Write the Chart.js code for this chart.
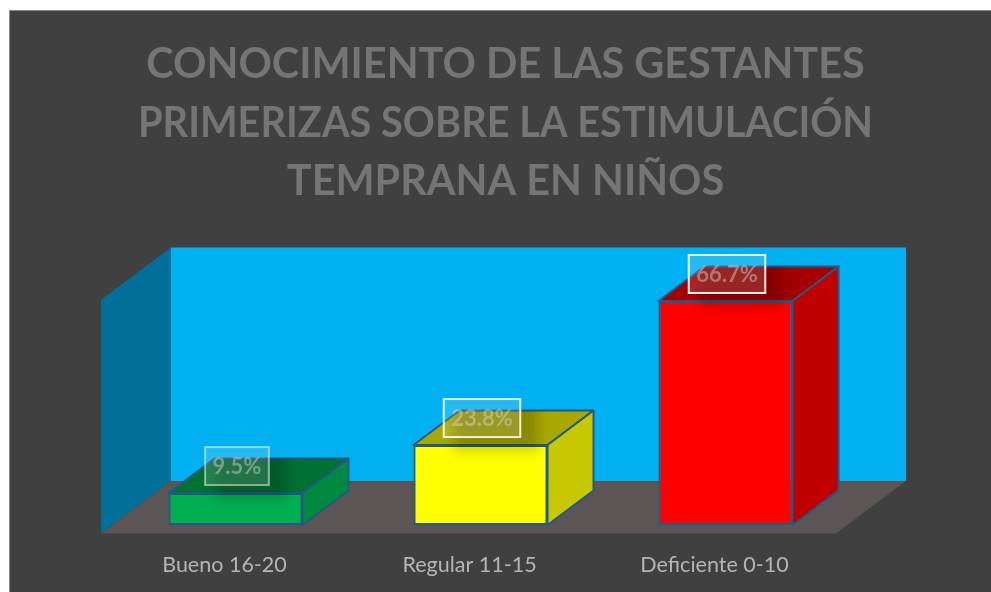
<!DOCTYPE html>
<html>
<head>
<meta charset="utf-8">
<title>Conocimiento de las gestantes</title>
<script src="https://cdn.jsdelivr.net/npm/chart.js@4/dist/chart.umd.js"></script>
<style>
    html, body { margin: 0; padding: 0; background: #fff; overflow: hidden; }
    #panel { position: absolute; left: 9px; top: 10px; width: 990px; height: 590px; background: #404040; border: 1px solid #8a8a8a; border-right: 0; border-bottom: 0; }
    #chart { position: absolute; left: 0; top: 0; }
</style>
</head>
<body>
<div id="panel"></div>
<canvas id="chart" width="991" height="592"></canvas>
<script>
const titleLines = ['CONOCIMIENTO DE LAS GESTANTES', 'PRIMERIZAS SOBRE LA ESTIMULACIÓN', 'TEMPRANA EN NIÑOS'];
const categories = ['Bueno 16-20', 'Regular 11-15', 'Deficiente 0-10'];
const percentages = [9.5, 23.8, 66.7];

const frontColors = ['#00b050', '#ffff00', '#ff0000'];
const topColors = ['#007033', '#a8a800', '#a50000'];
const sideColors = ['#008a3f', '#c8c800', '#c00000'];
const boxBorders = ['rgba(255,255,255,0.5)', 'rgba(255,255,255,0.85)', 'rgba(255,255,255,0.95)'];
const edgeColor = '#215a86';
const fontName = 'Lato, "Open Sans", sans-serif';

function poly(ctx, pts, fill) {
    ctx.beginPath();
    pts.forEach((p, i) => i ? ctx.lineTo(p[0], p[1]) : ctx.moveTo(p[0], p[1]));
    ctx.closePath();
    if (fill) {
        ctx.fillStyle = fill;
        ctx.fill();
    }
}

const box3d = {
    id: 'box3d',
    afterLayout(chart) {
        // title is not centred on the plot in the original
        chart.titleBlock.left += 25;
        chart.titleBlock.right += 25;
    },
    beforeDatasetsDraw(chart) {
        const ctx = chart.ctx;
        const area = chart.chartArea;
        const y0 = chart.scales.y.getPixelForValue(0);
        const left = area.left - 12, right = area.right - 12;
        const floor = y0 + 8.5, top = area.top - 1;
        const wx = 70, wy = 52.5;

        ctx.save();
        // back wall, left wall, floor
        poly(ctx, [[left + wx, top - wy], [right + wx, top - wy], [right + wx, floor - wy], [left + wx, floor - wy]], '#00b0f0');
        poly(ctx, [[left, top], [left + wx, top - wy], [left + wx, floor - wy], [left, floor]], '#006f99');
        poly(ctx, [[left, floor], [right, floor], [right + wx, floor - wy], [left + wx, floor - wy]], '#5b5655');

        // top and side of every bar
        const dx = 46, dy = 34.5;
        chart.getDatasetMeta(0).data.forEach((bar, i) => {
            const l = bar.x - bar.width / 2, r = bar.x + bar.width / 2;
            ctx.strokeStyle = edgeColor;
            ctx.lineWidth = 2;
            ctx.lineJoin = 'round';
            poly(ctx, [[l, bar.y], [r, bar.y], [r + dx, bar.y - dy], [l + dx, bar.y - dy]], topColors[i]);
            ctx.stroke();
            poly(ctx, [[r, bar.y], [r + dx, bar.y - dy], [r + dx, bar.base - dy], [r, bar.base]], sideColors[i]);
            ctx.stroke();
        });
        ctx.restore();
    },
    afterDatasetsDraw(chart) {
        const ctx = chart.ctx;
        const dx = 46, dy = 34.5;
        chart.getDatasetMeta(0).data.forEach((bar, i) => {
            const text = percentages[i].toFixed(1) + '%';
            const l = bar.x - bar.width / 2, r = bar.x + bar.width / 2;

            ctx.save();
            ctx.font = 'bold 22px ' + fontName;
            const boxW = ctx.measureText(text).width + 15;
            const boxH = 38;
            const bx = bar.x + 1.5 - boxW / 2;
            const by = bar.y - 8 - boxH;

            // soft shadow of the label, only visible on the bar
            ctx.save();
            poly(ctx, [[l, bar.base], [l, bar.y], [l + dx, bar.y - dy], [r + dx, bar.y - dy], [r, bar.y], [r, bar.base]]);
            ctx.clip();
            ctx.filter = 'blur(6px)';
            ctx.fillStyle = 'rgba(0,0,0,0.18)';
            ctx.fillRect(bx + 10, by, boxW + 8, boxH + 14);
            ctx.restore();

            ctx.fillStyle = 'rgba(255,255,255,0.14)';
            ctx.fillRect(bx, by, boxW, boxH);
            ctx.strokeStyle = boxBorders[i];
            ctx.lineWidth = 2;
            ctx.strokeRect(bx, by, boxW, boxH);

            ctx.fillStyle = 'rgba(217,217,217,0.45)';
            ctx.textAlign = 'center';
            ctx.textBaseline = 'middle';
            ctx.fillText(text, bx + boxW / 2, by + boxH / 2 + 1);
            ctx.restore();
        });
    }
};

new Chart(document.getElementById('chart').getContext('2d'), {
    type: 'bar',
    data: {
        labels: categories,
        datasets: [{
            data: percentages,
            backgroundColor: frontColors,
            borderColor: edgeColor,
            borderWidth: 2,
            borderSkipped: false,
            categoryPercentage: 1,
            barPercentage: 0.547,
            clip: false
        }]
    },
    options: {
        responsive: false,
        animation: false,
        layout: { padding: { left: 113, right: 143, top: 35, bottom: 0 } },
        plugins: {
            legend: { display: false },
            tooltip: { enabled: false },
            title: {
                display: true,
                text: titleLines,
                color: '#757575',
                font: { family: fontName, size: 41.4, weight: 'bold', lineHeight: 1.42 },
                padding: { top: 0, bottom: 89.6 }
            }
        },
        scales: {
            x: {
                grid: { display: false },
                border: { display: false },
                afterFit(scale) { scale.height = 67; },
                ticks: {
                    color: '#b5b5b5',
                    font: { family: fontName, size: 21.5 },
                    padding: 19,
                    labelOffset: -11,
                    maxRotation: 0
                }
            },
            y: { display: false, min: 0, max: 66.7 }
        }
    },
    plugins: [box3d]
});
</script>
</body>
</html>
